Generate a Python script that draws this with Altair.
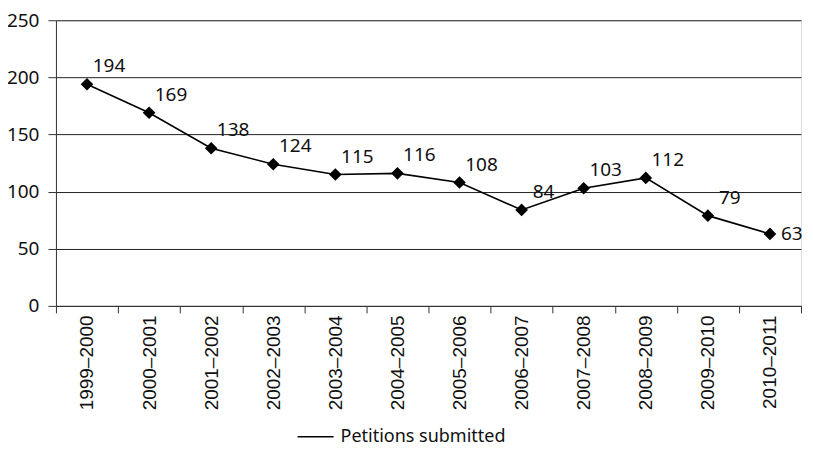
import altair as alt
import pandas as pd

years = ["1999–2000", "2000–2001", "2001–2002", "2002–2003", "2003–2004", "2004–2005",
         "2005–2006", "2006–2007", "2007–2008", "2008–2009", "2009–2010", "2010–2011"]
petitions = [194, 169, 138, 124, 115, 116, 108, 84, 103, 112, 79, 63]
series_name = "Petitions submitted"

df = pd.DataFrame({"year": years, "value": petitions, "series": series_name,
                   "is_last": [i == len(years) - 1 for i in range(len(years))]})

FONT = "Noto Sans"

x_enc = alt.X("year:N", sort=years, title=None,
              scale=alt.Scale(type="band", paddingInner=0, paddingOuter=0),
              axis=alt.Axis(labelAngle=-90, tickBand="extent", labelFont="Liberation Sans",
                            labelFontSize=19, labelColor="#111", tickColor="#333",
                            domainColor="#333", tickSize=7, labelPadding=2, grid=False))
y_enc = alt.Y("value:Q", title=None,
              scale=alt.Scale(domain=[0, 250], nice=False),
              axis=alt.Axis(values=[0, 50, 100, 150, 200, 250], labelFont=FONT, labelFontSize=19,
                            labelColor="#111", tickColor="#333", domainColor="#333",
                            tickSize=8, labelPadding=9, gridColor="#222", gridWidth=1))

base = alt.Chart(df)

line = base.mark_line(strokeWidth=1.6).encode(
    x=x_enc, y=y_enc,
    color=alt.Color("series:N", title=None,
                    scale=alt.Scale(range=["#000000"]),
                    legend=alt.Legend(orient="none", legendX=241, legendY=398,
                                      symbolType="stroke", symbolSize=1296,
                                      symbolStrokeWidth=1.3, labelFont=FONT,
                                      labelFontSize=18, labelColor="#111", labelOffset=6,
                                      labelLimit=0, symbolStrokeColor="#000")))

points = base.mark_point(shape="diamond", filled=True, size=160, color="#000", opacity=1).encode(
    x=alt.X("year:N", sort=years), y="value:Q")

labels = base.transform_filter("!datum.is_last").mark_text(
    font=FONT, fontSize=19, color="#111", dx=22, dy=-18).encode(
    x=alt.X("year:N", sort=years), y="value:Q", text="value:Q")

last_label = base.transform_filter("datum.is_last").mark_text(
    font=FONT, fontSize=19, color="#111", dx=11, dy=0, align="left").encode(
    x=alt.X("year:N", sort=years), y="value:Q", text="value:Q")

chart = alt.layer(line, points, labels, last_label).properties(
    width=746, height=286,
    autosize=alt.AutoSizeParams(type="none"),
    padding={"left": 48, "top": 12, "right": 4, "bottom": 140},
).configure_view(stroke=None).configure(background="white")

chart.save("out.html", embed_options={"renderer": "svg", "actions": False})
